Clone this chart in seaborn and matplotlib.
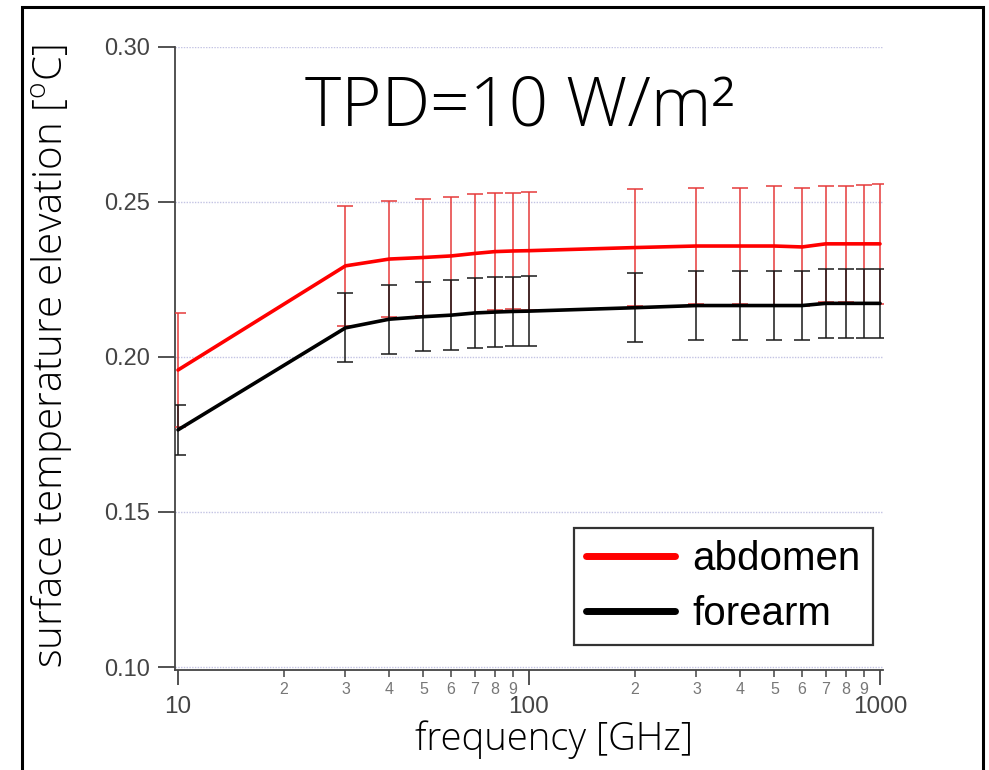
import numpy as np
import pandas as pd
import matplotlib
matplotlib.use("Agg")
import matplotlib.pyplot as plt
import seaborn as sns
from matplotlib.lines import Line2D
from matplotlib.patches import Rectangle
from matplotlib.ticker import FixedLocator, FixedFormatter

# ---------------- data ----------------
freq = [10, 30, 40, 50, 60, 70, 80, 90, 100, 200, 300, 400, 500, 600, 700, 800, 900, 1000]
abdomen = [0.1958, 0.2294, 0.2316, 0.2321, 0.2326, 0.2334, 0.2340, 0.2342, 0.2343,
           0.2353, 0.2358, 0.2358, 0.2358, 0.2355, 0.2365, 0.2365, 0.2365, 0.2365]
abdomen_err = [0.0183, 0.0194, 0.0188, 0.0189, 0.0189, 0.0192, 0.0188, 0.0186, 0.0190,
               0.0188, 0.0188, 0.0188, 0.0195, 0.0191, 0.0188, 0.0188, 0.0190, 0.0193]
forearm = [0.1765, 0.2094, 0.2122, 0.2130, 0.2135, 0.2142, 0.2145, 0.2147, 0.2148,
           0.2159, 0.2166, 0.2166, 0.2166, 0.2166, 0.2173, 0.2173, 0.2173, 0.2173]
forearm_err = [0.0081, 0.0111, 0.0111, 0.0112, 0.0112, 0.0112, 0.0112, 0.0112, 0.0112,
               0.0111, 0.0111, 0.0111, 0.0111, 0.0111, 0.0112, 0.0112, 0.0112, 0.0112]
series_names = ["abdomen", "forearm"]
series_colors = ["#ff0000", "#000000"]
err_colors = ["#e53a3a", "#1a1a1a"]

y_ticks = [0.10, 0.15, 0.20, 0.25, 0.30]
y_ticklabels = ["0.10", "0.15", "0.20", "0.25", "0.30"]
x_major_ticks = [10, 100, 1000]
x_major_labels = ["10", "100", "1000"]
x_minor_ticks = [20, 30, 40, 50, 60, 70, 80, 90, 200, 300, 400, 500, 600, 700, 800, 900]
x_minor_labels = ["2", "3", "4", "5", "6", "7", "8", "9", "2", "3", "4", "5", "6", "7", "8", "9"]

title_text = "TPD=10 W/m²"
xlabel_text = "frequency [GHz]"
ylabel_text = r"surface temperature elevation [$\mathrm{^{o}}$C]"

# ---------------- style ----------------
sns.set_style("white")
TXT_FONT = ["Open Sans", "Noto Sans", "DejaVu Sans"]
plt.rcParams["font.family"] = TXT_FONT
plt.rcParams["mathtext.fontset"] = "custom"
plt.rcParams["mathtext.rm"] = "Open Sans:light"

W, H = 989, 770
fig = plt.figure(figsize=(W / 100, H / 100), dpi=100)
fig.patch.set_facecolor("white")

ax_l, ax_r, ax_t, ax_b = 175, 883, 47, 670
ax = fig.add_axes([ax_l / W, 1 - ax_b / H, (ax_r - ax_l) / W, (ax_b - ax_t) / H])

df = pd.DataFrame({
    "freq": freq * 2,
    "value": abdomen + forearm,
    "series": [series_names[0]] * len(freq) + [series_names[1]] * len(freq),
})

vals = [abdomen, forearm]
errs = [abdomen_err, forearm_err]
for i in range(2):
    ax.errorbar(freq, vals[i], yerr=errs[i], fmt="none", ecolor=err_colors[i],
                elinewidth=1.1, capsize=5.5, capthick=1.1, zorder=3 + i)

sns.lineplot(data=df, x="freq", y="value", hue="series", palette=series_colors,
             hue_order=series_names, linewidth=2.6, ax=ax, legend=False, zorder=5)

ax.set_xscale("log")
px_per_dec = (880 - 178) / 2.0
ax.set_xlim(10 ** (1 - (178 - ax_l) / px_per_dec), 10 ** (3 + (ax_r - 880) / px_per_dec))
ax.set_ylim(0.10 - 3 / 3100, 0.30)

ax.set_xlabel("")
ax.set_ylabel("")

# grid
for yv in y_ticks:
    ax.axhline(yv, color="#c3c3e3", lw=1.0, ls=(0, (1, 1)), zorder=1)

# spines
for s in ["top", "right"]:
    ax.spines[s].set_visible(False)
for s in ["left", "bottom"]:
    ax.spines[s].set_color("#444444")
    ax.spines[s].set_linewidth(1.3)

# ticks
ax.yaxis.set_major_locator(FixedLocator(y_ticks))
ax.yaxis.set_major_formatter(FixedFormatter(y_ticklabels))
ax.yaxis.set_minor_locator(FixedLocator([]))
ax.tick_params(axis="y", which="major", direction="out", length=12, width=1.3,
               color="#444444", pad=6, labelsize=17, labelcolor="#444444", left=True)
ax.xaxis.set_major_locator(FixedLocator(x_major_ticks))
ax.xaxis.set_major_formatter(FixedFormatter(x_major_labels))
ax.xaxis.set_minor_locator(FixedLocator(x_minor_ticks))
ax.xaxis.set_minor_formatter(FixedFormatter(x_minor_labels))
ax.tick_params(axis="x", which="major", direction="out", length=11, width=1.3,
               color="#444444", pad=8, labelsize=17.5, labelcolor="#444444", bottom=True)
ax.tick_params(axis="x", which="minor", direction="out", length=5, width=1.1,
               color="#444444", pad=4, labelsize=11.5, labelcolor="#777777", bottom=True)
for lab in ax.get_xticklabels(which="both") + ax.get_yticklabels():
    lab.set_fontfamily(["Liberation Sans", "DejaVu Sans"])

# legend
handles = [Line2D([0], [0], color=c, lw=5) for c in series_colors]
leg = ax.legend(handles, series_names, loc="lower right",
                bbox_to_anchor=(873 / W, 1 - 645 / H), bbox_transform=fig.transFigure,
                borderaxespad=0, frameon=True, fancybox=False, edgecolor="black",
                prop={"family": "Liberation Sans", "size": 29},
                handlelength=2.2, handletextpad=0.45, labelspacing=0.42, borderpad=0.3)
leg.get_frame().set_linewidth(1.6)
leg.set_zorder(10)
for t in leg.get_texts():
    t.set_color("black")

# texts
fig.text(520 / W, 1 - 125 / H, title_text, ha="center", va="baseline", fontsize=49.5,
         family=TXT_FONT, fontweight="light", color="black")
fig.text(554 / W, 1 - 750 / H, xlabel_text, ha="center", va="baseline", fontsize=27.5,
         family=TXT_FONT, fontweight="light", color="black")
fig.text(62 / W, 1 - 356 / H, ylabel_text, ha="center", va="baseline", rotation=90,
         rotation_mode="anchor", fontsize=29, family=TXT_FONT, fontweight="light",
         color="black")

# outer frame
fig.patches.append(Rectangle((22 / W, -0.05), (983 - 22) / W, 1.05 - 7 / H,
                             transform=fig.transFigure, fill=False, lw=2.2,
                             edgecolor="black", zorder=20))

fig.savefig("out.png", dpi=100)
